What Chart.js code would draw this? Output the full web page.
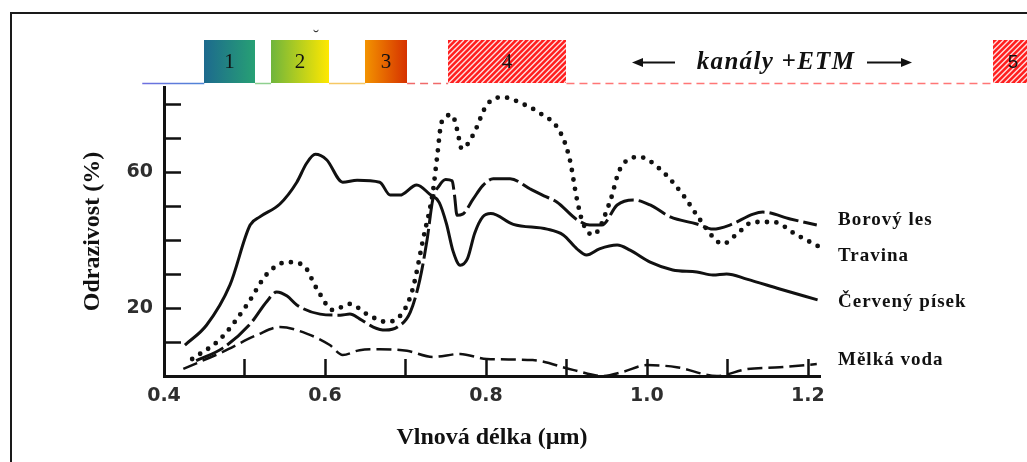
<!DOCTYPE html>
<html lang="cs">
<head>
<meta charset="utf-8">
<title>Spektrální odrazivost</title>
<script src="https://cdn.jsdelivr.net/npm/chart.js@4.4.1/dist/chart.umd.min.js"></script>
<style>
  html, body { margin: 0; padding: 0; background: #fff; }
</style>
</head>
<body>
<canvas id="graf" width="1027" height="462"></canvas>
<script>
// Odrazivost (%) podle vlnové délky (µm)
const pisekX = [0.426, 0.453, 0.482, 0.507, 0.519, 0.544, 0.565, 0.577, 0.588, 0.602, 0.622, 0.64, 0.668, 0.681, 0.693, 0.714, 0.73, 0.742, 0.751, 0.759, 0.768, 0.777, 0.786, 0.796, 0.806, 0.834, 0.876, 0.896, 0.913, 0.925, 0.941, 0.963, 0.979, 1.004, 1.032, 1.062, 1.082, 1.099, 1.124, 1.165, 1.212];
const pisekY = [9.1, 15, 26.8, 44.4, 46.8, 50.6, 57, 62.5, 65.2, 63.6, 57, 57.6, 57, 53.2, 53.2, 56.2, 53.5, 51, 44.7, 36.8, 32.6, 34.5, 42, 46.8, 47.8, 44.6, 43.2, 41.5, 37.4, 35.6, 37.4, 38.5, 37, 33.5, 31.2, 30.6, 29.7, 30, 28.5, 25.6, 22.4];

const lesX = [0.44, 0.473, 0.507, 0.528, 0.54, 0.553, 0.565, 0.594, 0.619, 0.631, 0.643, 0.66, 0.675, 0.69, 0.706, 0.718, 0.727, 0.734, 0.742, 0.75, 0.758, 0.761, 0.764, 0.771, 0.784, 0.796, 0.809, 0.83, 0.855, 0.872, 0.888, 0.913, 0.929, 0.944, 0.963, 0.983, 1.004, 1.029, 1.062, 1.082, 1.103, 1.132, 1.144, 1.178, 1.211];
const lesY = [4.5, 8.2, 15.3, 22, 24.7, 23.5, 20.9, 18.2, 17.9, 18.2, 16.8, 14.4, 13.5, 14.4, 18.8, 28.5, 40.3, 52, 56, 57.8, 57.4, 53, 47.3, 47.6, 52, 56, 58, 58, 55, 53, 51.2, 46, 44.4, 44.4, 50.3, 51.8, 50.3, 46.8, 44.7, 43.2, 44.4, 47.6, 48.2, 46.2, 44.4];

const travinaX = [0.435, 0.47, 0.503, 0.528, 0.553, 0.573, 0.59, 0.61, 0.631, 0.652, 0.677, 0.697, 0.709, 0.722, 0.734, 0.739, 0.745, 0.758, 0.764, 0.77, 0.784, 0.801, 0.821, 0.846, 0.865, 0.892, 0.904, 0.913, 0.92, 0.933, 0.954, 0.966, 0.991, 1.016, 1.045, 1.062, 1.082, 1.094, 1.112, 1.132, 1.157, 1.186, 1.215];
const travinaY = [5, 10.9, 20.9, 30, 33.5, 32.6, 25.6, 19.4, 21.2, 18.2, 15.9, 18.8, 25.6, 40.3, 54.1, 63.8, 74.7, 76.8, 72.6, 66.8, 70.9, 79.7, 82, 80, 77.6, 71.8, 63.8, 52, 45.3, 41.5, 51.2, 60.6, 64.4, 60.9, 53.2, 47.3, 40.9, 38.8, 41.8, 45.3, 45.3, 41.5, 37.9];

const vodaX = [0.424, 0.473, 0.516, 0.544, 0.578, 0.606, 0.622, 0.643, 0.668, 0.702, 0.734, 0.768, 0.801, 0.858, 0.908, 0.945, 0.97, 1.0, 1.037, 1.087, 1.124, 1.165, 1.211];
const vodaY = [2.1, 7.1, 12.1, 14.4, 12.4, 9.1, 6.2, 7.6, 7.9, 7.4, 5.6, 6.5, 5, 4.7, 1.8, 0, 1.2, 3.2, 2.6, 0, 2, 2.6, 3.5];

const nazvy = ['Červený písek', 'Borový les', 'Travina', 'Mělká voda'];

const xPopisky = [0.4, 0.6, 0.8, 1.0, 1.2];
const yPopisky = [20, 60];
const xZnacky = [0.5, 0.6, 0.7, 0.8, 0.9, 1.0, 1.1, 1.2];
const yZnacky = [10, 20, 30, 40, 50, 60, 70, 80];

// kanály Landsat ETM+ (jak jsou nakreslené v obrázku)
const kanalyNazvy = ['1', '2', '3', '4', '5'];
const kanalyOd = [0.45, 0.533, 0.65, 0.753, 1.43];
const kanalyDo = [0.513, 0.605, 0.702, 0.9, 1.48];

const body = (xs, ys) => xs.map((x, i) => ({ x: x, y: ys[i] }));

// posun popisku krivky od jejiho konce (px)
const popisekPosun = [2, -5, 9, -4];

const pozadiKanalu = [
  ['#1d6a8e', '#27a074'],
  ['#6fb53c', '#ffe800'],
  ['#f39300', '#d63200'],
  null,
  null
];

const kanalyPlugin = {
  id: 'kanaly',
  afterDraw(chart) {
    const ctx = chart.ctx;
    const xs = chart.scales.x;
    const ys = chart.scales.y;
    const area = chart.chartArea;
    const horni = area.top - 47;
    const dolni = area.top - 4;
    ctx.save();

    // ramecek
    ctx.strokeStyle = '#1a1a1a';
    ctx.lineWidth = 2;
    ctx.beginPath();
    ctx.moveTo(11, 462);
    ctx.lineTo(11, 13);
    ctx.lineTo(1027, 13);
    ctx.stroke();

    // znacky os dovnitr
    ctx.strokeStyle = '#111';
    ctx.lineWidth = 2.5;
    ctx.beginPath();
    yZnacky.forEach(v => {
      const py = Math.round(ys.getPixelForValue(v)) + 0.5;
      ctx.moveTo(area.left, py);
      ctx.lineTo(area.left + 17, py);
    });
    xZnacky.forEach(v => {
      const px = Math.round(xs.getPixelForValue(v)) + 0.5;
      ctx.moveTo(px, area.bottom);
      ctx.lineTo(px, area.bottom - 17);
    });
    ctx.stroke();

    // barevna linka spektra
    const px = kanalyOd.map(v => xs.getPixelForValue(v));
    const pxk = kanalyDo.map(v => xs.getPixelForValue(v));
    const ly = dolni + 0.5;
    const usek = (a, b, barva, carka) => {
      ctx.beginPath();
      ctx.setLineDash(carka || []);
      ctx.strokeStyle = barva;
      ctx.lineWidth = 1.5;
      ctx.moveTo(a, ly);
      ctx.lineTo(b, ly);
      ctx.stroke();
    };
    const g0 = ctx.createLinearGradient(xs.getPixelForValue(0.373), 0, px[0], 0);
    g0.addColorStop(0, '#6f6fe0');
    g0.addColorStop(1, '#4f86d6');
    usek(xs.getPixelForValue(0.373), px[0], g0);
    usek(pxk[0], px[1], '#8fd08f');
    usek(pxk[1], px[2], '#f6c864');
    usek(pxk[2], px[3], '#f06a6a', [8, 5]);
    usek(pxk[3], px[4], '#ff7676', [8, 5]);
    ctx.setLineDash([]);

    // obdelniky kanalu
    kanalyNazvy.forEach((n, i) => {
      const a = Math.round(px[i]);
      const b = Math.round(pxk[i]);
      const s = pozadiKanalu[i];
      if (s) {
        const g = ctx.createLinearGradient(a, 0, b, 0);
        g.addColorStop(0, s[0]);
        g.addColorStop(1, s[1]);
        ctx.fillStyle = g;
        ctx.fillRect(a, horni, b - a, dolni - horni);
      } else {
        ctx.save();
        ctx.beginPath();
        ctx.rect(a, horni, b - a, dolni - horni);
        ctx.clip();
        ctx.fillStyle = '#ff1e1e';
        ctx.fillRect(a, horni, b - a, dolni - horni);
        ctx.strokeStyle = 'rgba(255,255,255,0.85)';
        ctx.lineWidth = 1.4;
        ctx.beginPath();
        for (let k = a - 60; k < b + 60; k += 5.5) {
          ctx.moveTo(k, dolni);
          ctx.lineTo(k + (dolni - horni), horni);
        }
        ctx.stroke();
        ctx.restore();
      }
      ctx.fillStyle = '#111';
      ctx.textAlign = 'center';
      ctx.textBaseline = 'middle';
      ctx.font = i === 4 ? '19px "Liberation Sans"' : '21px "Liberation Serif"';
      ctx.fillText(n, (a + b) / 2, (horni + dolni) / 2 + 1);
    });

    ctx.font = '18px "Liberation Serif"';
    ctx.fillStyle = '#333';
    ctx.fillText('˘', 316, 38);

    // kanaly +ETM se sipkami
    const sy = (horni + dolni) / 2 + 1;
    ctx.fillStyle = '#111';
    ctx.font = 'italic bold 25px "Liberation Serif"';
    if ('letterSpacing' in ctx) ctx.letterSpacing = '1.3px';
    ctx.fillText('kanály +ETM', 776, sy);
    if ('letterSpacing' in ctx) ctx.letterSpacing = '0px';
    const sipka = (x1, x2) => {
      const smer = Math.sign(x2 - x1);
      ctx.strokeStyle = '#111';
      ctx.lineWidth = 2;
      ctx.beginPath();
      ctx.moveTo(x1, sy);
      ctx.lineTo(x2 - smer * 8, sy);
      ctx.stroke();
      ctx.beginPath();
      ctx.moveTo(x2, sy);
      ctx.lineTo(x2 - smer * 11, sy - 4.5);
      ctx.lineTo(x2 - smer * 11, sy + 4.5);
      ctx.closePath();
      ctx.fill();
    };
    sipka(675, 632);
    sipka(867, 912);

    // popisky krivek
    ctx.textAlign = 'left';
    ctx.font = 'bold 19px "Liberation Serif"';
    if ('letterSpacing' in ctx) ctx.letterSpacing = '1px';
    chart.data.datasets.forEach((ds, i) => {
      const posledni = ds.data[ds.data.length - 1];
      ctx.fillText(ds.label, area.right + 18, ys.getPixelForValue(posledni.y) + popisekPosun[i]);
    });
    ctx.restore();
  }
};

const cara = { pointRadius: 0, borderColor: '#111', fill: false, clip: false, cubicInterpolationMode: 'monotone' };

new Chart(document.getElementById('graf'), {
  type: 'line',
  data: {
    datasets: [
      Object.assign({ label: nazvy[0], data: body(pisekX, pisekY), borderWidth: 3 }, cara),
      Object.assign({ label: nazvy[1], data: body(lesX, lesY), borderWidth: 3, borderDash: [30, 5] }, cara),
      Object.assign({ label: nazvy[2], data: body(travinaX, travinaY), borderWidth: 4.8, borderDash: [0, 9.5], borderCapStyle: 'round' }, cara),
      Object.assign({ label: nazvy[3], data: body(vodaX, vodaY), borderWidth: 2.5, borderDash: [15, 6] }, cara)
    ]
  },
  options: {
    responsive: false,
    animation: false,
    layout: { padding: { top: 87, right: 207, left: 0, bottom: 0 } },
    plugins: { legend: { display: false }, tooltip: { enabled: false } },
    scales: {
      x: {
        type: 'linear',
        min: 0.4,
        max: 1.215,
        grid: { display: false, drawTicks: false },
        border: { display: true, width: 3, color: '#111' },
        afterBuildTicks: s => { s.ticks = xPopisky.map(v => ({ value: v })); },
        afterFit: s => { s.height = 86; },
        ticks: {
          padding: 9,
          color: '#2e2e2e',
          autoSkip: false,
          maxRotation: 0,
          font: { family: 'DejaVu Sans', size: 19, weight: 'bold' },
          callback: v => v.toFixed(1)
        },
        title: {
          display: true,
          text: 'Vlnová délka (µm)',
          color: '#111',
          font: { family: 'Liberation Serif', size: 24, weight: 'bold' },
          padding: { top: 0, bottom: 10 }
        }
      },
      y: {
        min: 0,
        max: 85,
        grid: { display: false, drawTicks: false },
        border: { display: true, width: 3, color: '#111' },
        afterBuildTicks: s => { s.ticks = yPopisky.map(v => ({ value: v })); },
        afterFit: s => { s.width = 164; },
        ticks: {
          padding: 11,
          color: '#2e2e2e',
          font: { family: 'DejaVu Sans', size: 19, weight: 'bold' }
        },
        title: {
          display: true,
          text: 'Odrazivost (%)',
          color: '#111',
          font: { family: 'Liberation Serif', size: 24, weight: 'bold' },
          padding: { top: 78, bottom: 0 }
        }
      }
    }
  },
  plugins: [kanalyPlugin]
});
</script>
</body>
</html>
